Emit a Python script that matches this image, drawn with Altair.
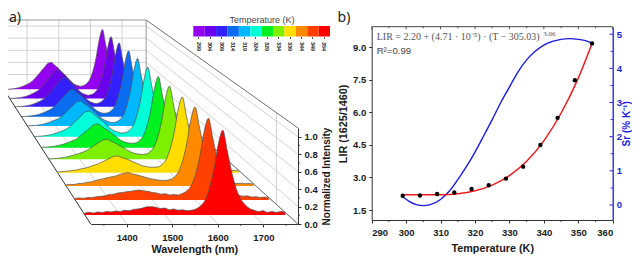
import altair as alt
import pandas as pd

WAVELENGTHS = list(range(1320, 1780, 10))
TEMPS = [299, 304, 309, 314, 319, 324, 329, 334, 339, 344, 349, 354]
COLORS = ["#9400f0", "#6a00ee", "#3320ff", "#0a6cf0", "#00b8ff", "#00ffd8",
          "#00f020", "#7df000", "#ffdd00", "#ff8a00", "#ff4000", "#ff0000"]
DEPTHS = [.019, .085, .146, .218, .286, .364, .444, .529, .626, .723, .825, .934]

I_299 = [0, 0, .004, .009, .018, .031, .048, .07, .097, .132, .185, .246, .308, .37, .427, .44, .396, .352,
         .30, .25, .195, .14, .09, .065, .05, .06, .09, .157, .294, .51, .81, .98, .735, .49, .294, .167, .098, .059,
         .04, .03, .02, .02, .015, .01, .01, .005]
I_304 = [0, .002, .005, .01, .02, .032, .05, .072, .10, .135, .19, .25, .315, .378, .437, .45, .405, .36,
         .306, .252, .19, .135, .09, .065, .05, .06, .09, .157, .294, .51, .81, .98, .735, .49, .294, .167, .098, .059,
         .04, .03, .02, .02, .015, .01, .01, .005]
I_309 = [0, .002, .005, .01, .02, .033, .05, .072, .10, .135, .19, .25, .315, .38, .44, .45, .405, .36,
         .306, .25, .19, .135, .09, .065, .05, .06, .09, .157, .30, .52, .82, .99, .74, .49, .294, .167, .098, .059,
         .04, .03, .022, .02, .015, .012, .01, .006]
I_314 = [0, .002, .006, .012, .02, .032, .05, .07, .095, .125, .175, .23, .287, .345, .398, .41, .37, .33,
         .28, .23, .175, .125, .085, .06, .05, .06, .09, .157, .30, .52, .82, .99, .74, .49, .30, .17, .10, .06,
         .04, .03, .022, .02, .016, .012, .01, .006]
I_319 = [.002, .004, .007, .012, .02, .032, .05, .07, .09, .115, .155, .205, .256, .307, .355, .366, .33, .293,
         .25, .205, .155, .11, .08, .06, .05, .06, .09, .157, .30, .52, .82, .99, .74, .49, .30, .17, .10, .06,
         .042, .03, .024, .02, .016, .012, .01, .006]
I_324 = [.002, .004, .008, .014, .022, .034, .05, .07, .09, .115, .155, .205, .255, .305, .352, .365, .33, .29,
         .25, .205, .155, .11, .08, .062, .052, .06, .09, .157, .30, .52, .82, .99, .74, .49, .30, .17, .10, .06,
         .042, .032, .024, .022, .018, .014, .012, .008]
I_329 = [.004, .006, .01, .016, .024, .035, .05, .068, .09, .11, .145, .19, .23, .275, .315, .326, .295, .26,
         .225, .185, .145, .105, .08, .065, .06, .065, .095, .16, .30, .52, .82, .98, .74, .49, .30, .17, .10, .065,
         .045, .035, .028, .024, .02, .016, .014, .01]
I_334 = [.006, .008, .012, .018, .026, .036, .05, .065, .082, .10, .125, .16, .195, .23, .26, .268, .245, .22,
         .19, .16, .13, .10, .08, .07, .065, .07, .10, .165, .30, .52, .82, .98, .74, .49, .30, .17, .105, .07,
         .05, .04, .03, .028, .022, .02, .016, .012]
I_339 = [.01, .012, .018, .022, .03, .036, .05, .06, .075, .095, .11, .135, .16, .185, .21, .215, .195, .18,
         .16, .135, .115, .09, .08, .07, .07, .075, .105, .17, .31, .52, .82, .98, .74, .49, .30, .175, .11, .07,
         .055, .04, .036, .03, .03, .025, .028, .02]
I_344 = [.012, .02, .018, .03, .032, .045, .05, .065, .08, .09, .105, .115, .125, .145, .16, .167, .15, .14,
         .125, .11, .095, .085, .075, .07, .07, .08, .11, .175, .31, .53, .83, .99, .75, .50, .31, .18, .115, .08,
         .06, .045, .04, .03, .035, .028, .03, .022]
I_349 = [.018, .025, .02, .03, .028, .04, .045, .05, .065, .07, .085, .09, .10, .105, .115, .12, .11, .105,
         .09, .085, .07, .075, .06, .065, .06, .08, .11, .175, .31, .53, .83, .99, .75, .50, .31, .185, .115, .08,
         .06, .045, .05, .035, .04, .03, .035, .025]
I_354 = [.02, .03, .022, .035, .028, .04, .035, .045, .04, .055, .05, .065, .07, .08, .095, .097, .09, .075,
         .08, .06, .07, .055, .06, .05, .055, .07, .105, .17, .31, .53, .83, .99, .75, .50, .31, .185, .12, .075,
         .055, .04, .05, .03, .04, .03, .04, .03]
SPECTRA = [I_299, I_304, I_309, I_314, I_319, I_324, I_329, I_334, I_339, I_344, I_349, I_354]

WL_TICKS = [1400, 1500, 1600, 1700]
WL_MINOR = [1350, 1450, 1550, 1650, 1750]
INT_TICKS = [0.0, 0.2, 0.4, 0.6, 0.8, 1.0]
INT_MINOR = [0.1, 0.3, 0.5, 0.7, 0.9]
WL_MIN, WL_MAX, INT_MAX = 1321, 1776, 1.1

LIR_T = [299, 304, 309, 314, 319, 324, 329, 334, 339, 344, 349, 354]
LIR_POINTS = [2.16, 2.17, 2.24, 2.31, 2.47, 2.64, 2.95, 3.5, 4.5, 5.75, 7.48, 9.18]
FIT_T = [299, 305, 310, 315, 320, 325, 330, 335, 340, 345, 350, 354]
FIT_LIR = [2.20, 2.20, 2.206, 2.25, 2.386, 2.65, 3.09, 3.75, 4.69, 5.96, 7.58, 9.18]
SR_T = [299, 301, 303, 305, 307, 310, 312.5, 315, 317.5, 320, 322.5, 325, 327.5, 330,
        332.5, 335, 337.5, 340, 342.5, 345, 347.5, 350, 352.5, 354]
SR = [.24, .10, .01, -.02, .01, .16, .40, .74, 1.12, 1.55, 2.02, 2.50, 3.00, 3.45,
      3.90, 4.25, 4.50, 4.68, 4.79, 4.85, 4.87, 4.85, 4.80, 4.74]
T_MAJOR = [290, 300, 310, 320, 330, 340, 350, 360]
T_MINOR = [295, 305, 315, 325, 335, 345, 355]
SR_TICKS = [0, 1, 2, 3, 4, 5]
SR_MINOR = [0.5, 1.5, 2.5, 3.5, 4.5]

W, H = 624, 249
xa = alt.Scale(domain=[WL_MIN, WL_MAX], range=[82.7, 290], nice=False, zero=False)
ya = alt.Scale(domain=[0, INT_MAX], range=[216, 120], nice=False, zero=False)
xb = alt.Scale(domain=[290, 360], range=[363.7, 604.7], nice=False, zero=False)
yl = alt.Scale(domain=[1.04, 9.95], range=[212, 18.7], nice=False, zero=False)
yr = alt.Scale(domain=[-0.44, 5.22], range=[212, 18.7], nice=False, zero=False)
FONT = "Liberation Sans"
INK = "#1a1a1a"
BLUE = "#1c1ce0"


def project(wl, val, t):
    """Perspective of the waterfall: depth t=0 is the back wall, t=1 the front."""
    s = 0.695 + 0.305 * t
    px = WL_MIN - 194.5 * (1 - t) + s * (wl - WL_MIN)
    py = 1.573 * (1 - t) + s * val
    return px, py


def seg(w1, v1, t1, w2, v2, t2):
    a = project(w1, v1, t1)
    b = project(w2, v2, t2)
    return {"x": a[0], "y": a[1], "x2": b[0], "y2": b[1]}


def rules(rows, color, width=1.0, sx=xa, sy=ya):
    return alt.Chart(pd.DataFrame(rows)).mark_rule(color=color, strokeWidth=width).encode(
        x=alt.X("x:Q", scale=sx, axis=None), x2="x2:Q",
        y=alt.Y("y:Q", scale=sy, axis=None), y2="y2:Q")


layers = []

grid = []
for wl in WL_TICKS:
    grid.append(seg(wl, 0, 0, wl, INT_MAX, 0))
    grid.append(seg(wl, 0, 0, wl, 0, 1))
for v in INT_TICKS[1:]:
    grid.append(seg(WL_MIN, v, 0, WL_MAX, v, 0))
for v in INT_TICKS:
    grid.append(seg(WL_MAX, v, 0, WL_MAX, v, 1))
grid.append(seg(WL_MAX, 0, .858, WL_MAX, INT_MAX, .858))
layers.append(rules(grid, "#cdcdcd", 0.9))

layers.append(rules([seg(WL_MIN, 0, 0, WL_MIN, INT_MAX, 0),
                     seg(WL_MIN, INT_MAX, 0, WL_MAX, INT_MAX, 0),
                     seg(WL_MAX, 0, 0, WL_MAX, INT_MAX, 0)], "#9a9a9a", 1.0))
layers.append(rules([seg(WL_MAX, INT_MAX, 0, WL_MAX, INT_MAX, 1),
                     seg(WL_MAX, 0, 0, WL_MAX, 0, 1)], "#707070", 1.0))
layers.append(rules([seg(WL_MIN, 0, 0, WL_MIN, 0, 1)], "#333333", 1.0))

for temp, vals, color, t in zip(TEMPS, SPECTRA, COLORS, DEPTHS):
    pts = [project(w, v, t) for w, v in zip(WAVELENGTHS, vals)]
    base = project(WL_MIN, 0, t)[1]
    df = pd.DataFrame({"x": [p[0] for p in pts], "y": [p[1] for p in pts], "b": base})
    x_enc = alt.X("x:Q", scale=xa, axis=None)
    y_enc = alt.Y("y:Q", scale=ya, axis=None)
    layers.append(alt.Chart(df).mark_area(color=color, interpolate="monotone").encode(x=x_enc, y=y_enc, y2="b:Q"))
    layers.append(alt.Chart(df).mark_line(color="#505050", strokeWidth=0.7, interpolate="monotone").encode(x=x_enc, y=y_enc))

# left panel axes
axis_style = dict(labelFont=FONT, labelFontWeight="bold", labelFontSize=9.5, labelColor=INK,
                  titleFont=FONT, titleFontWeight="bold", titleColor=INK, grid=False,
                  tickColor="#333333", domainColor="#333333", tickSize=3)
layers.append(alt.Chart(pd.DataFrame({"w": WL_TICKS})).mark_point(opacity=0).encode(
    x=alt.X("w:Q", scale=xa, axis=alt.Axis(title="Wavelength (nm)", values=WL_TICKS, orient="bottom",
                                           offset=-(H - 216), format="d", labelPadding=5, titleFontSize=10.8,
                                           titlePadding=2, **axis_style)),
    y=alt.Y("w2:Q", scale=ya, axis=None)).transform_calculate(w2="0"))
layers.append(alt.Chart(pd.DataFrame({"v": INT_TICKS})).mark_point(opacity=0).encode(
    y=alt.Y("v:Q", scale=ya, axis=alt.Axis(title="Normalized Intensity", values=INT_TICKS, orient="right",
                                           offset=-(W - 290), format=".1f", labelPadding=3, titleFontSize=10,
                                           titleAngle=270, titleBaseline="top", titlePadding=4, **axis_style)),
    x=alt.X("v2:Q", scale=xa, axis=None)).transform_calculate(v2=str(WL_MAX)))
layers.append(rules([{"x": w, "x2": w, "y": 0, "y2": -0.02} for w in WL_MINOR], "#333333", 1.0))
layers.append(rules([{"x": WL_MAX, "x2": WL_MAX + 4, "y": v, "y2": v} for v in INT_MINOR], "#333333", 1.0))

# colour bar
bar = pd.DataFrame({"T": [str(t) for t in TEMPS], "c": COLORS})
layers.append(alt.Chart(bar).mark_rect().encode(
    x=alt.X("T:N", sort=None, scale=alt.Scale(domain=[str(t) for t in TEMPS], range=[185.3, 322], paddingInner=0, paddingOuter=0),
            axis=alt.Axis(title=None, orient="bottom", offset=-(H - 28.5), labelAngle=90, labelFont=FONT,
                          labelFontSize=5.5, labelFontWeight="bold", labelColor="#222222", labelPadding=3,
                          tickSize=2, tickColor="#555555", domain=False, grid=False)),
    y=alt.value(18), y2=alt.value(28.5),
    color=alt.Color("c:N", scale=None, legend=None)))

# right panel: curves and points
layers.append(alt.Chart(pd.DataFrame({"T": SR_T, "S": SR})).mark_line(color=BLUE, strokeWidth=1.4, interpolate="monotone").encode(
    x=alt.X("T:Q", scale=xb, axis=None), y=alt.Y("S:Q", scale=yr, axis=None)))
layers.append(alt.Chart(pd.DataFrame({"T": FIT_T, "L": FIT_LIR})).mark_line(color="#ec1c1c", strokeWidth=1.5, interpolate="monotone").encode(
    x=alt.X("T:Q", scale=xb, axis=None), y=alt.Y("L:Q", scale=yl, axis=None)))
layers.append(alt.Chart(pd.DataFrame({"T": LIR_T, "L": LIR_POINTS})).mark_circle(color="#000000", size=19, opacity=1).encode(
    x=alt.X("T:Q", scale=xb, axis=None), y=alt.Y("L:Q", scale=yl, axis=None)))

# right panel: axes
layers.append(alt.Chart(pd.DataFrame({"T": [290, 360]})).mark_point(opacity=0).encode(
    x=alt.X("T:Q", scale=xb, axis=alt.Axis(title="Temperature (K)", orient="bottom", offset=-(H - 212),
                                           values=T_MAJOR, format="d", labelPadding=4,
                                           titleFontSize=10.8, titlePadding=6, **axis_style)),
    y=alt.value(100)))
layers.append(alt.Chart(pd.DataFrame({"L": [1.5, 9.0]})).mark_point(opacity=0).encode(
    y=alt.Y("L:Q", scale=yl, axis=alt.Axis(title="LIR (1625/1460)", orient="left", offset=-363.7,
                                           values=[1.5, 3.0, 4.5, 6.0, 7.5, 9.0], format=".1f", labelPadding=3,
                                           titleFontSize=10.8, titlePadding=4, **axis_style)),
    x=alt.value(400)))
blue_style = dict(axis_style)
blue_style.update(labelColor=BLUE, titleColor=BLUE, tickColor=BLUE, domainColor=BLUE, tickSize=0, domainWidth=1.3)
layers.append(alt.Chart(pd.DataFrame({"S": [0, 5]})).mark_point(opacity=0).encode(
    y=alt.Y("S:Q", scale=yr, axis=alt.Axis(title="Sr (% K⁻¹)", orient="right", offset=-(W - 604.7),
                                           values=SR_TICKS, format="d", labelPadding=3.5,
                                           titleFontSize=10, titleAngle=270, titleBaseline="top",
                                           titlePadding=0, **blue_style)),
    x=alt.value(400)))

# frame: top line, inward ticks on top and right, minor ticks on the bottom
layers.append(alt.Chart(pd.DataFrame({"T": [290], "T2": [360], "L": [9.95]})).mark_rule(color="#444444", strokeWidth=1).encode(
    x=alt.X("T:Q", scale=xb, axis=None), x2="T2:Q", y=alt.Y("L:Q", scale=yl, axis=None)))
layers.append(rules([{"x": t, "x2": t, "y": 9.95, "y2": 9.83} for t in T_MAJOR], "#555555", 1.0, xb, yl))
layers.append(rules([{"x": t, "x2": t, "y": 9.95, "y2": 9.88} for t in T_MINOR], "#555555", 1.0, xb, yl))
layers.append(rules([{"x": t, "x2": t, "y": 1.04, "y2": 0.95} for t in T_MINOR], "#333333", 1.0, xb, yl))
layers.append(rules([{"x": 360, "x2": 359.1, "y": s, "y2": s} for s in SR_TICKS], BLUE, 1.0, xb, yr))
layers.append(rules([{"x": 360, "x2": 359.4, "y": s, "y2": s} for s in SR_MINOR], BLUE, 1.0, xb, yr))


def label(text, t, lir, size, color, font=FONT, weight="normal"):
    return alt.Chart(pd.DataFrame({"T": [t], "L": [lir], "s": [text]})).mark_text(
        align="left", baseline="middle", font=font, fontSize=size, color=color, fontWeight=weight
    ).encode(x=alt.X("T:Q", scale=xb, axis=None), y=alt.Y("L:Q", scale=yl, axis=None), text="s:N")


layers.append(label("LIR = 2.20 + (4.71 · 10⁻⁵) · (T − 305.03)", 291.45, 9.47, 10, "#555555", "Liberation Serif"))
layers.append(label("3.06", 339.8, 9.62, 7, "#555555", "Liberation Serif"))
layers.append(label("R²=0.99", 291.45, 8.84, 9.6, "#444444"))


def free_text(text, x, y, size, color, font=FONT):
    return alt.Chart(pd.DataFrame({"s": [text]})).mark_text(
        align="center", baseline="middle", font=font, fontSize=size, color=color
    ).encode(x=alt.value(x), y=alt.value(y), text="s:N")


layers.append(free_text("Temperature (K)", 254, 12, 9, "#444444"))
layers.append(free_text("a)", 7, 10, 14, "#222222", "Noto Sans"))
layers.append(free_text("b)", 336, 10, 14, "#222222", "Noto Sans"))

chart = alt.layer(*layers).resolve_scale(x="independent", y="independent", color="independent").properties(
    width=W, height=H, padding=0, autosize=alt.AutoSizeParams(type="none"), background="white"
).configure_view(stroke=None)

chart.save("out.html", embed_options={"renderer": "svg", "actions": False})
